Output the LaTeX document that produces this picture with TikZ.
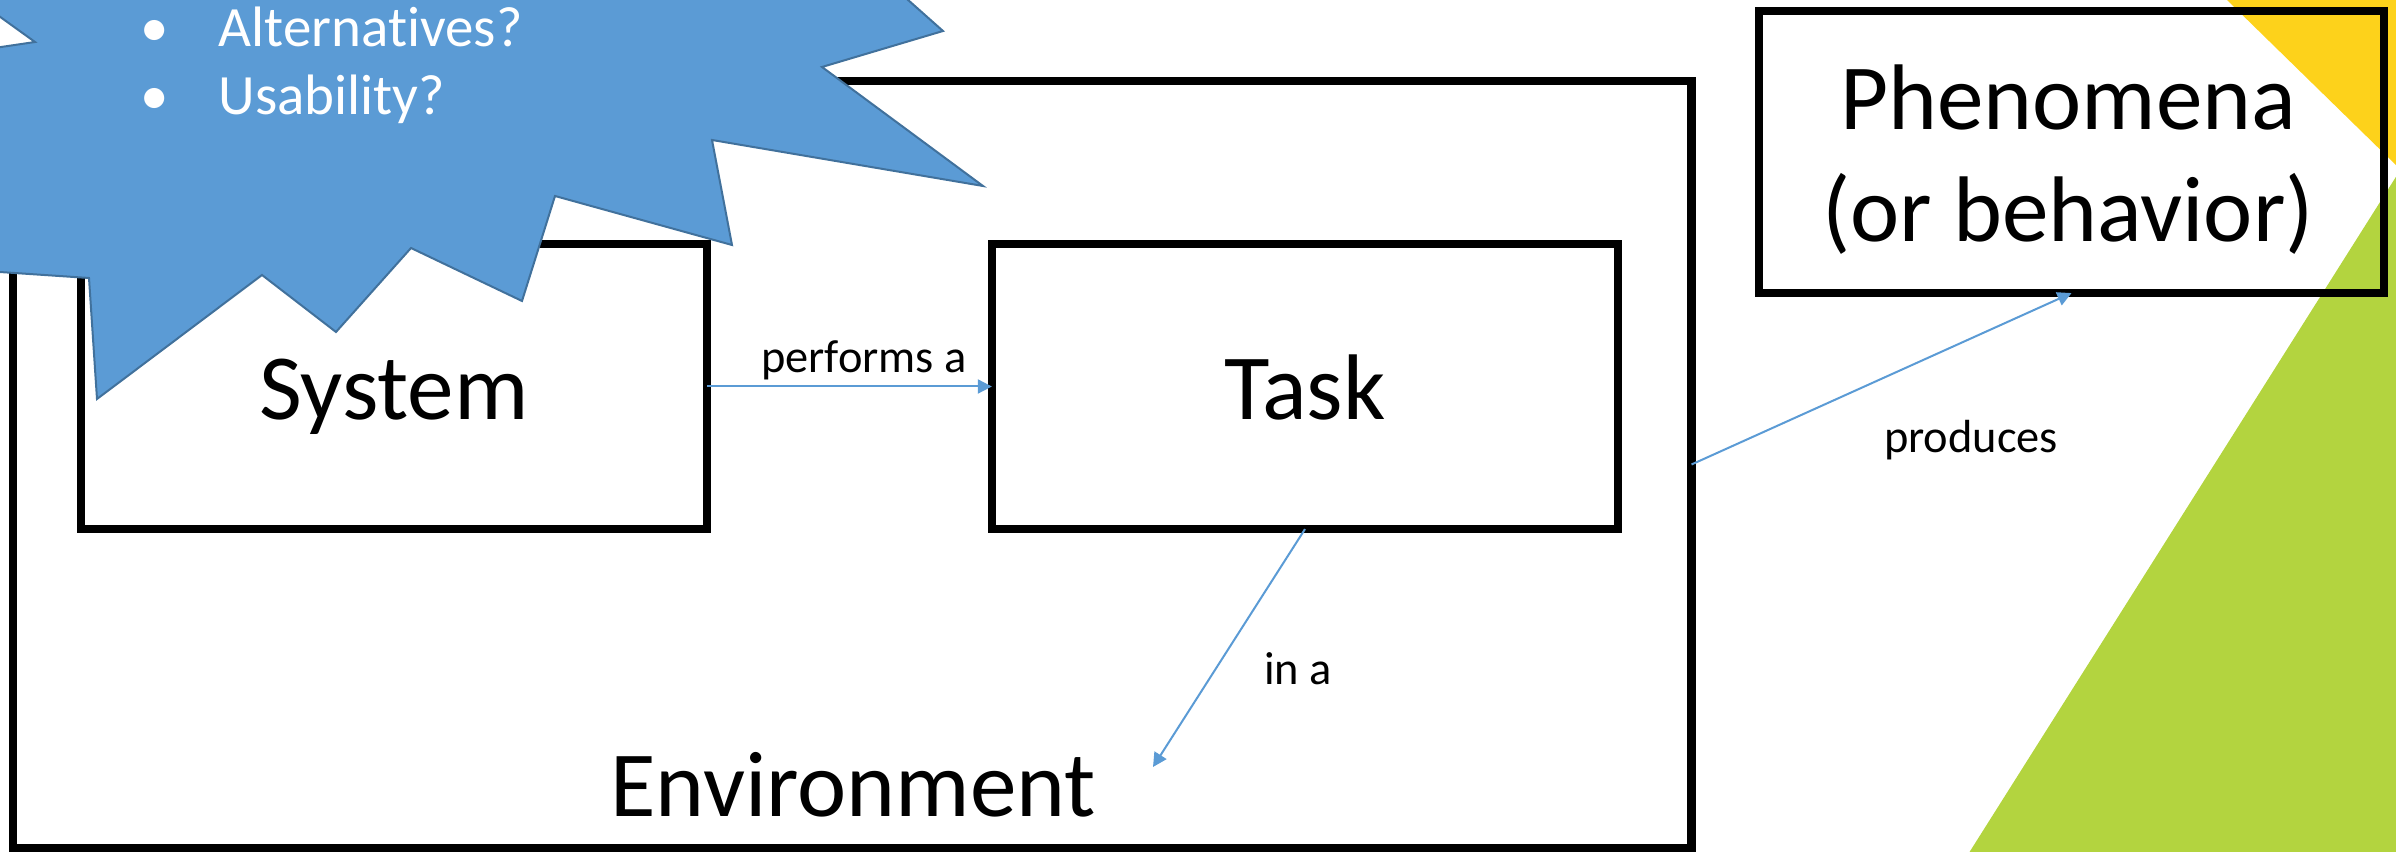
\documentclass[tikz,border=0pt]{standalone}
\usepackage{fontspec}
\setmainfont{Carlito}[Ligatures=NoCommon]
\usetikzlibrary{arrows.meta}
\definecolor{accblue}{HTML}{5B9BD5}
\definecolor{accdark}{HTML}{41719C}
\definecolor{bgyellow}{HTML}{FDD21B}
\definecolor{bggreen}{HTML}{B3D43F}
\begin{document}
\begin{tikzpicture}[x=0.01cm,y=-0.01cm,
  box/.style={draw=black, line width=0.8mm, rectangle, inner sep=0pt, outer sep=0pt},
  big/.style={font=\fontsize{26.5pt}{31.9pt}\selectfont, inner sep=0pt},
  lbl/.style={font=\fontsize{13.2pt}{16pt}\selectfont, inner sep=0pt},
  conn/.style={draw=accblue, line width=0.2mm, -{Triangle[length=1.4mm,width=1.4mm]}},
  burst/.style={fill=accblue, draw=accdark, line width=0.2mm, line join=miter},
  bt/.style={text=white, font=\fontsize{16.2pt}{19pt}\selectfont, inner sep=0pt}]
\useasboundingbox (0,0) rectangle (2396,852);
\clip (0,0) rectangle (2396,852);
% background decoration
\fill[bgyellow] (2227,0) -- (2400,0) -- (2400,169) -- cycle;
\fill[bggreen] (2399,172) -- (1967,856) -- (2400,856) -- cycle;
% boxes
\node[box, minimum width=16.78cm, minimum height=7.67cm] (env) at (852,464.5) {};
\node[box, minimum width=6.26cm, minimum height=2.85cm] (sys) at (394,386.5) {};
\node[box, minimum width=6.26cm, minimum height=2.85cm] (task) at (1305,386.5) {};
\node[box, minimum width=6.25cm, minimum height=2.82cm] (phen) at (2071.5,152) {};
% texts
\node[big, anchor=base] (systext) at (394,420) {System};
\node[big, anchor=base] (tasktext) at (1305,420) {Task};
\node[big, anchor=base] (envtext) at (853,816) {Environment};
\node[big, align=center] (phentext) at (2068,160) {Phenomena\\(or behavior)};
% connectors
\coordinate (inpt) at (1153,767);
\draw[conn] (sys) -- (task);
\draw[conn] (task.south) -- (inpt);
\draw[conn] (env.east) -- (phen.south);
\node[lbl, anchor=base] (perf) at (864,373) {performs a};
\node[lbl, anchor=base] (ina) at (1298,685) {in a};
\node[lbl, anchor=base] (prod) at (1971,453) {produces};
% starburst
\draw[burst] (863,-40) -- (943,31) -- (822,67) -- (983,186) -- (712,140)
  -- (732,245) -- (555,196) -- (522,301) -- (411,248) -- (336,332)
  -- (262,275) -- (97,399) -- (89,278) -- (-60,268) -- (-60,56)
  -- (35,42) -- (-40,-12) -- (-40,-40) -- cycle;
\node[bt, anchor=base] (b1) at (155,47) {•};
\node[bt, anchor=base west] (alt) at (218,47) {Alternatives?};
\node[bt, anchor=base] (b2) at (155,115) {•};
\node[bt, anchor=base west] (usa) at (218,115) {Usability?};
\end{tikzpicture}
\end{document}
